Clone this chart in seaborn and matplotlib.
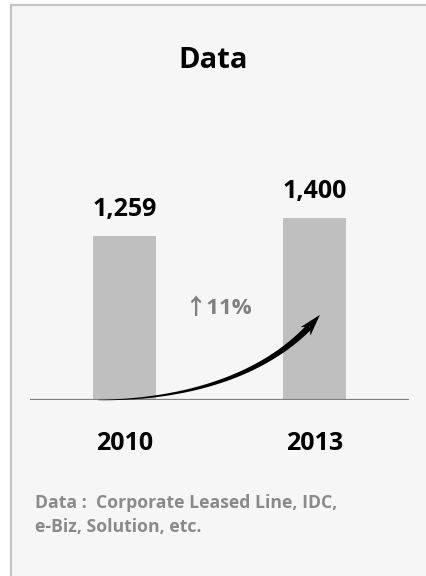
import numpy as np
import matplotlib
matplotlib.use("Agg")
import matplotlib.pyplot as plt
import seaborn as sns
from matplotlib.patches import Rectangle, Polygon
from matplotlib.transforms import IdentityTransform

# ---- data ----
years = ["2010", "2013"]
values = [1259, 1400]
value_labels = ["1,259", "1,400"]
title = "Data"
growth_label = "\u219111%"
footnote = ["Data :  Corporate Leased Line, IDC,", "e-Biz, Solution, etc."]

sns.set_theme(style="white")
plt.rcParams["font.family"] = ["Open Sans", "DejaVu Sans"]

W, H = 426, 576
fig = plt.figure(figsize=(W / 100, H / 100), dpi=100, facecolor="white")

# panel background + frame (extends past right/bottom edges)
fig.patches.append(Rectangle((11 / W, -20 / H), 460 / W, (H - 5 + 20) / H,
                             transform=fig.transFigure, facecolor="#f6f6f6",
                             edgecolor="#c4c4c4", linewidth=1.6, zorder=-5))

ax = fig.add_axes([30 / W, 176 / H, 379 / W, 300 / H])
ax.patch.set_alpha(0)
sns.barplot(x=years, y=values, color="#bfbfbf", width=0.33, ax=ax,
            saturation=1, edgecolor="none")
ax.set_xlim(-0.5, 1.5)
ax.set_ylim(0, 300 / 0.13)
for s in ax.spines.values():
    s.set_visible(False)
ax.axhline(0, color="#808080", lw=1.6, zorder=3)
ax.set_yticks([])
ax.set_xlabel("")
ax.set_ylabel("")
ax.tick_params(axis="x", length=0, pad=22)
for lab in ax.get_xticklabels():
    lab.set_fontsize(18)
    lab.set_fontweight("bold")
    lab.set_color("black")

ax.bar_label(ax.containers[0], labels=value_labels, padding=10,
             fontsize=18, fontweight="bold", color="black")

fig.text(0.5, 1 - 61 / H, title, ha="center", va="center",
         fontsize=21, fontweight="bold", color="black")

ax.text(0.49, 700, growth_label, ha="center", va="center", fontsize=16,
        fontweight="bold", color="#808080",
        family=["Open Sans", "Noto Sans CJK KR", "DejaVu Sans"])

# curved tapered arrow (display coords)
fig.canvas.draw()
T = ax.transData
p0 = np.array(T.transform((-0.14, 0)))
p3 = np.array(T.transform((1.03, 655)))
p1 = p0 + np.array([85, 0])
p2 = p3 + np.array([-50, -62])
t = np.linspace(0, 1, 120)[:, None]
curve = ((1 - t) ** 3) * p0 + 3 * ((1 - t) ** 2) * t * p1 + 3 * (1 - t) * t ** 2 * p2 + t ** 3 * p3
d = np.gradient(curve, axis=0)
seg = np.sqrt((d ** 2).sum(axis=1))
s = np.cumsum(seg)
L = s[-1]
head_len = 22
mask = s <= L - head_len * 0.7
body = curve[mask]
db = d[mask]
nrm = np.stack([-db[:, 1], db[:, 0]], axis=1)
nrm /= np.linalg.norm(nrm, axis=1)[:, None]
wid = np.linspace(0.2, 3.2, len(body))[:, None]
left = body + nrm * wid
right = body - nrm * wid
poly = np.vstack([left, right[::-1]])
fig.patches.append(Polygon(poly, closed=True, transform=IdentityTransform(),
                           facecolor="black", edgecolor="none", zorder=5))
tip = curve[-1]
dirv = curve[-1] - curve[-8]
dirv /= np.linalg.norm(dirv)
nv = np.array([-dirv[1], dirv[0]])
base = tip - dirv * head_len
head = np.array([tip, base + nv * 6.5, tip - dirv * head_len * 0.7, base - nv * 6.5])
fig.patches.append(Polygon(head, closed=True, transform=IdentityTransform(),
                           facecolor="black", edgecolor="none", zorder=5))

fig.text(35 / W, 1 - 508 / H, footnote[0], ha="left", va="baseline",
         fontsize=12.7, fontweight="bold", color="#8a8a8a")
fig.text(35 / W, 1 - 532 / H, footnote[1], ha="left", va="baseline",
         fontsize=12.7, fontweight="bold", color="#8a8a8a")

fig.savefig("out.png", dpi=100, facecolor="white")
